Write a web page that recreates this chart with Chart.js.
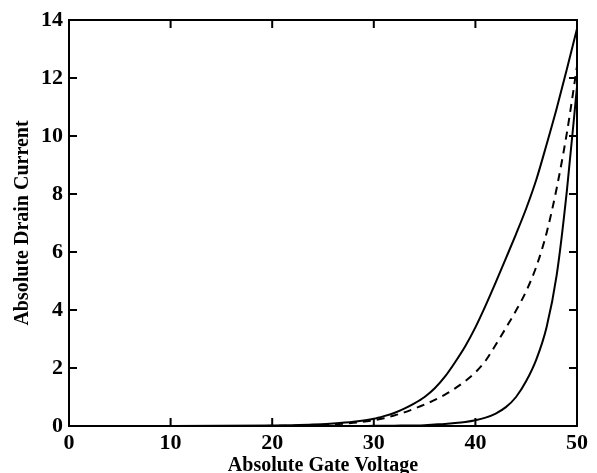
<!DOCTYPE html>
<html>
<head>
<meta charset="utf-8">
<script src="https://cdn.jsdelivr.net/npm/chart.js@4"></script>
<style>
  html, body { margin: 0; padding: 0; background: #fff; }
  #wrap { width: 597px; height: 473px; }
</style>
</head>
<body>
<div id="wrap"><canvas id="myChart"></canvas></div>
<script>
// gate voltage (x) and the three drain current curves
const voltage = [0, 5, 10, 15, 20, 22, 24, 26, 28, 30, 31, 32, 33, 34, 35, 36, 37, 38, 39, 40, 41, 42, 43, 44, 45, 46, 47, 48, 49, 50];
const upperCurrent = [0, 0, 0, 0.005, 0.02, 0.03, 0.05, 0.09, 0.15, 0.25, 0.34, 0.45, 0.6, 0.78, 1.0, 1.3, 1.7, 2.2, 2.75, 3.4, 4.15, 4.95, 5.78, 6.62, 7.5, 8.5, 9.7, 10.95, 12.3, 13.7];
const middleCurrent = [0, 0, 0, 0, 0.005, 0.01, 0.03, 0.06, 0.11, 0.2, 0.27, 0.36, 0.47, 0.6, 0.74, 0.9, 1.08, 1.3, 1.55, 1.85, 2.25, 2.8, 3.38, 3.98, 4.65, 5.5, 6.65, 8.2, 10.1, 12.4];
const lowerCurrent = [0, 0, 0, 0, 0, 0, 0, 0, 0, 0.005, 0.008, 0.01, 0.015, 0.02, 0.03, 0.05, 0.07, 0.1, 0.14, 0.2, 0.29, 0.43, 0.65, 1.0, 1.55, 2.3, 3.4, 5.2, 8.1, 11.7];
const xTicks = [0, 10, 20, 30, 40, 50];
const yTicks = [0, 2, 4, 6, 8, 10, 12, 14];

const serif = '"Liberation Serif", "Times New Roman", serif';

function toPoints(ys) {
  return voltage.map((v, i) => ({ x: v, y: ys[i] }));
}

// frame on top/right plus inward ticks on every side
const frameTicks = {
  id: 'frameTicks',
  afterDraw(chart) {
    const ctx = chart.ctx;
    const a = chart.chartArea;
    const xs = chart.scales.x, ys = chart.scales.y;
    const len = 8;
    ctx.save();
    ctx.strokeStyle = '#000';
    ctx.lineWidth = 2;
    ctx.beginPath();
    ctx.moveTo(a.left, a.top);
    ctx.lineTo(a.right, a.top);
    ctx.lineTo(a.right, a.bottom);
    xTicks.forEach(t => {
      const px = xs.getPixelForValue(t);
      ctx.moveTo(px, a.bottom);
      ctx.lineTo(px, a.bottom - len);
      ctx.moveTo(px, a.top);
      ctx.lineTo(px, a.top + len);
    });
    yTicks.forEach(t => {
      const py = ys.getPixelForValue(t);
      ctx.moveTo(a.left, py);
      ctx.lineTo(a.left + len, py);
      ctx.moveTo(a.right, py);
      ctx.lineTo(a.right - len, py);
    });
    ctx.stroke();
    ctx.restore();
  }
};

const ctx = document.getElementById('myChart').getContext('2d');
const myChart = new Chart(ctx, {
  type: 'line',
  data: {
    datasets: [
      { data: toPoints(upperCurrent), borderColor: '#000', borderWidth: 2 },
      { data: toPoints(middleCurrent), borderColor: '#000', borderWidth: 2, borderDash: [8, 6] },
      { data: toPoints(lowerCurrent), borderColor: '#000', borderWidth: 2 }
    ]
  },
  options: {
    responsive: true,
    maintainAspectRatio: false,
    animation: false,
    elements: {
      point: { radius: 0 },
      line: { cubicInterpolationMode: 'monotone', fill: false }
    },
    layout: { padding: { top: 20, right: 20, left: 0, bottom: 0 } },
    plugins: { legend: { display: false }, tooltip: { enabled: false } },
    scales: {
      x: {
        type: 'linear',
        min: 0,
        max: 50,
        afterFit: s => { s.height = 47; },
        afterBuildTicks: s => { s.ticks = xTicks.map(v => ({ value: v })); },
        grid: { display: false, drawTicks: false },
        border: { display: true, color: '#000', width: 2 },
        ticks: { color: '#000', padding: 4, maxRotation: 0, font: { family: serif, size: 22, weight: 'bold' } },
        title: {
          display: true,
          text: 'Absolute Gate Voltage',
          color: '#000',
          padding: { top: 0, bottom: -3 },
          font: { family: serif, size: 20, weight: 'bold', lineHeight: 1 }
        }
      },
      y: {
        min: 0,
        max: 14,
        afterFit: s => { s.width = 69; },
        afterBuildTicks: s => { s.ticks = yTicks.map(v => ({ value: v })); },
        grid: { display: false, drawTicks: false },
        border: { display: true, color: '#000', width: 2 },
        ticks: { color: '#000', padding: 6, font: { family: serif, size: 22, weight: 'bold' } },
        title: {
          display: true,
          text: 'Absolute Drain Current',
          color: '#000',
          padding: { top: 13, bottom: 0 },
          font: { family: serif, size: 20, weight: 'bold', lineHeight: 1 }
        }
      }
    }
  },
  plugins: [frameTicks]
});
</script>
</body>
</html>
